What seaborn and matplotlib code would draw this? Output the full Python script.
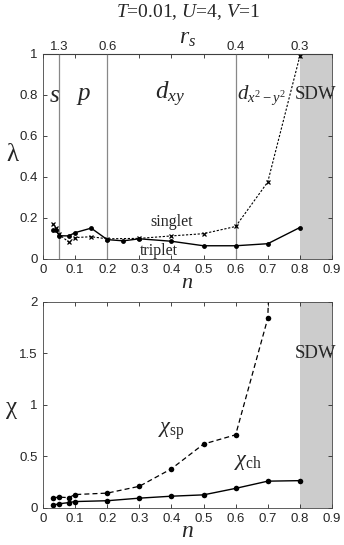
import numpy as np
import pandas as pd
import matplotlib
matplotlib.use("Agg")
import matplotlib.pyplot as plt
import seaborn as sns

# data
n_lam = [0.03, 0.04, 0.05, 0.08, 0.1, 0.15, 0.2, 0.25, 0.3, 0.4, 0.5, 0.6, 0.7, 0.8]
triplet = [0.142, 0.142, 0.113, 0.112, 0.128, 0.15, 0.094, 0.088, 0.098, 0.086, 0.064, 0.064, 0.074, 0.153]
n_sing = [0.03, 0.04, 0.05, 0.08, 0.1, 0.15, 0.2, 0.3, 0.4, 0.5, 0.6, 0.7, 0.8]
singlet = [0.172, 0.152, 0.12, 0.082, 0.104, 0.108, 0.098, 0.1, 0.112, 0.123, 0.158, 0.375, 0.99]

n_chi = [0.03, 0.05, 0.08, 0.1, 0.2, 0.3, 0.4, 0.5, 0.6, 0.7, 0.8]
chi_ch = [0.027, 0.04, 0.052, 0.062, 0.07, 0.095, 0.114, 0.127, 0.19, 0.26, 0.265]
n_sp = [0.03, 0.05, 0.08, 0.1, 0.2, 0.3, 0.4, 0.5, 0.6, 0.7, 0.8]
chi_sp = [0.098, 0.105, 0.1, 0.13, 0.144, 0.21, 0.38, 0.62, 0.71, 1.84, 10.0]

phase_bounds = [0.05, 0.2, 0.6]
rs_pos = [0.05, 0.2, 0.6, 0.8]
rs_labels = ["1.3", "0.6", "0.4", "0.3"]
regions = [(0.037, "$s$", 18), (0.125, "$p$", 18), (0.395, "$d_{xy}$", 18), (0.68, "$d_{x^2-y^2}$", 15)]

sns.set_style("ticks")
plt.rcParams["font.family"] = ["Liberation Sans", "DejaVu Sans"]
plt.rcParams["mathtext.fontset"] = "custom"
plt.rcParams["mathtext.it"] = "Liberation Serif:italic"
plt.rcParams["mathtext.rm"] = "Liberation Serif"
plt.rcParams["xtick.direction"] = "in"
plt.rcParams["ytick.direction"] = "in"

serif = "Liberation Serif"
fig = plt.figure(figsize=(3.44, 5.45), dpi=100)
ax1 = fig.add_axes([0.125, 0.525, 0.84, 0.376])
ax2 = fig.add_axes([0.125, 0.068, 0.84, 0.378])

shade = "#cccccc"
for ax in (ax1, ax2):
    ax.axvspan(0.8, 0.9, color=shade, lw=0, zorder=0)
    ax.set_xlim(0, 0.9)
    ax.set_xticks(np.arange(0, 0.91, 0.1))
    ax.set_xticklabels(["0", "0.1", "0.2", "0.3", "0.4", "0.5", "0.6", "0.7", "0.8", "0.9"])
    ax.tick_params(labelsize=9.5, length=3, width=0.6, top=True, right=True, pad=4)
    for s in ax.spines.values():
        s.set_linewidth(0.6)
        s.set_color("#444444")

# top panel
df_t = pd.DataFrame({"n": n_lam, "lam": triplet})
df_s = pd.DataFrame({"n": n_sing, "lam": singlet})
sns.lineplot(data=df_t, x="n", y="lam", ax=ax1, color="black", lw=1.0,
             marker="o", markersize=3.5, markeredgewidth=0)
sns.lineplot(data=df_s, x="n", y="lam", ax=ax1, color="black", lw=0.8,
             linestyle=(0, (2, 1.5)), marker="x", markersize=3.5, markeredgewidth=0.9,
             markeredgecolor="black")
for b in phase_bounds:
    ax1.axvline(b, color="#888888", lw=0.9, zorder=1)
ax1.set_ylim(0, 1)
ax1.set_yticks([0, 0.2, 0.4, 0.6, 0.8, 1])
ax1.set_yticklabels(["0", "0.2", "0.4", "0.6", "0.8", "1"])
ax1.set_xlabel("$n$", fontsize=16, labelpad=-3)
ax1.set_ylabel("")
fig.text(12 / 344, 1 - 155 / 545, "λ", family=serif, fontsize=18, ha="center", va="center")
for x, lab, fs in regions:
    ax1.text(x, 0.8, lab, fontsize=fs, ha="center", va="center")
ax1.text(0.85, 0.8, "SDW", family=serif, fontsize=13.5, ha="center", va="center")
ax1.text(0.4, 0.178, "singlet", family=serif, fontsize=11.5, ha="center", va="center")
ax1.text(0.36, 0.04, "triplet", family=serif, fontsize=11.5, ha="center", va="center")

top = ax1.secondary_xaxis("top")
top.set_xticks(rs_pos)
top.set_xticklabels(rs_labels)
top.tick_params(labelsize=9.5, length=0, pad=1)
top.set_xlabel("$r_s$", fontsize=17, labelpad=-2)
fig.text(0.545, 1 - 12 / 545, "$T$=0.01, $U$=4, $V$=1", family=serif, fontsize=14,
         ha="center", va="center")

# bottom panel
df_sp = pd.DataFrame({"n": n_sp, "chi": chi_sp})
df_ch = pd.DataFrame({"n": n_chi, "chi": chi_ch})
sns.lineplot(data=df_sp, x="n", y="chi", ax=ax2, color="black", lw=0.9,
             linestyle=(0, (4, 2.5)), marker="o", markersize=4, markeredgewidth=0)
sns.lineplot(data=df_ch, x="n", y="chi", ax=ax2, color="black", lw=1.0,
             marker="o", markersize=4, markeredgewidth=0)
ax2.set_ylim(0, 2)
ax2.set_yticks([0, 0.5, 1, 1.5, 2])
ax2.set_yticklabels(["0", "0.5", "1", "1.5", "2"])
ax2.set_xlabel("$n$", fontsize=17, labelpad=-4)
ax2.set_ylabel("")
fig.text(12 / 344, 1 - 408 / 545, "χ", family=serif, fontsize=18, ha="center", va="center")
ax2.text(0.85, 1.5, "SDW", family=serif, fontsize=13.5, ha="center", va="center")
ax2.text(0.4, 0.74, "$\\chi_{\\rm sp}$", fontsize=16, ha="center", va="center")
ax2.text(0.64, 0.45, "$\\chi_{\\rm ch}$", fontsize=16, ha="center", va="center")

for ax in (ax1, ax2):
    ax.set_xlim(0, 0.9)
    if ax.get_legend():
        ax.get_legend().remove()

fig.savefig("out.png", dpi=100)
